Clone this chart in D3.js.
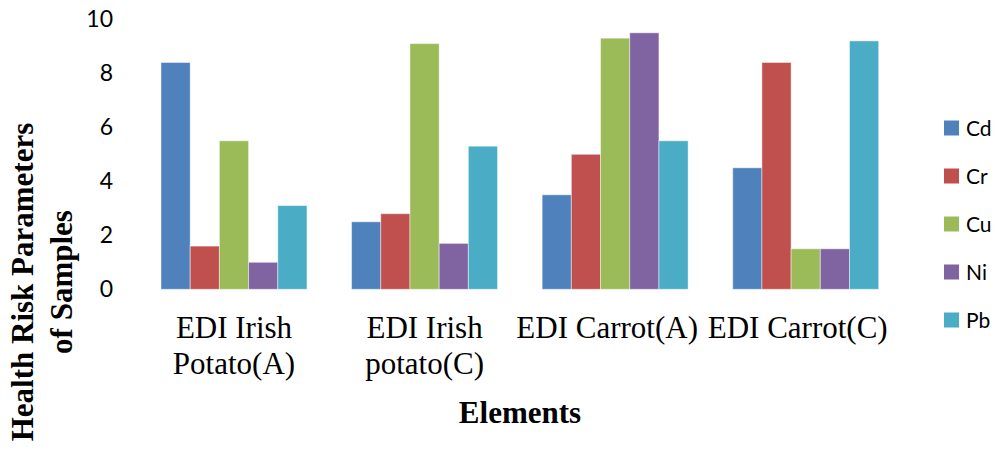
<!DOCTYPE html>
<html>
<head>
<meta charset="utf-8">
<script src="https://cdn.jsdelivr.net/npm/d3@7"></script>
<style>
  html, body { margin: 0; padding: 0; background: #fff; }
  svg { display: block; }
</style>
</head>
<body>
<svg id="chart" width="999" height="452"></svg>
<script>
// Sample groups (x categories) and the elements measured in each
const categories = ["EDI Irish\nPotato(A)", "EDI Irish\npotato(C)", "EDI Carrot(A)", "EDI Carrot(C)"];
const seriesNames = ["Cd", "Cr", "Cu", "Ni", "Pb"];
const Cd = [8.4, 2.5, 3.5, 4.5];
const Cr = [1.6, 2.8, 5.0, 8.4];
const Cu = [5.5, 9.1, 9.3, 1.5];
const Ni = [1.0, 1.7, 9.5, 1.5];
const Pb = [3.1, 5.3, 5.5, 9.2];
const yTicks = [0, 2, 4, 6, 8, 10];
const colors = ["#4F81BD", "#C0504D", "#9BBB59", "#8064A2", "#4BACC6"];

const seriesValues = [Cd, Cr, Cu, Ni, Pb];
const rows = categories.map((c, i) => ({
  category: c,
  values: seriesNames.map((s, j) => ({ key: s, value: seriesValues[j][i] }))
}));

const svg = d3.select("#chart");
const plot = { left: 138.7, right: 901, top: 19.3, bottom: 289.3 };

const x0 = d3.scaleBand()
  .domain(categories)
  .range([plot.left, plot.right])
  .paddingInner(0.234)
  .paddingOuter(0.117);

const x1 = d3.scaleBand()
  .domain(seriesNames)
  .range([0, x0.bandwidth()]);

const y = d3.scaleLinear()
  .domain([0, 10])
  .range([plot.bottom, plot.top]);

const color = d3.scaleOrdinal().domain(seriesNames).range(colors);

// Y axis: labels only, no line or tick marks
const yAxis = svg.append("g")
  .attr("transform", "translate(113,0)")
  .call(d3.axisLeft(y).tickValues(yTicks).tickFormat(d3.format("d")).tickSize(0).tickPadding(0));
yAxis.select(".domain").remove();
yAxis.selectAll("text")
  .attr("font-family", "Lato, 'Open Sans', sans-serif")
  .attr("font-size", 23)
  .attr("fill", "#000");

// Grouped bars
const groups = svg.append("g").selectAll("g")
  .data(rows)
  .join("g")
  .attr("transform", d => `translate(${x0(d.category)},0)`);

groups.selectAll("rect")
  .data(d => d.values)
  .join("rect")
  .attr("x", d => x1(d.key))
  .attr("y", d => y(d.value))
  .attr("width", x1.bandwidth())
  .attr("height", d => y(0) - y(d.value))
  .attr("fill", d => color(d.key))
  .attr("stroke", "rgba(255,255,255,0.45)")
  .attr("stroke-width", 1);

// X axis: category names, wrapped onto two lines where needed
const xAxis = svg.append("g")
  .attr("transform", `translate(0,${plot.bottom})`)
  .call(d3.axisBottom(x0).tickSize(0).tickFormat(""));
xAxis.select(".domain").remove();
xAxis.selectAll(".tick text").each(function(d) {
  const lines = d.split("\n");
  const t = d3.select(this)
    .attr("y", 0)
    .attr("dy", null)
    .attr("font-family", "'Liberation Serif', 'Times New Roman', serif")
    .attr("font-size", 31)
    .attr("fill", "#000")
    .attr("text-anchor", "middle");
  lines.forEach((line, i) => {
    t.append("tspan")
      .attr("x", lines.length === 1 ? -8 : 0)
      .attr("y", 49 + i * 36)
      .text(line);
  });
});

// Axis titles
svg.append("text")
  .attr("x", 520)
  .attr("y", 423)
  .attr("text-anchor", "middle")
  .attr("font-family", "'Liberation Serif', 'Times New Roman', serif")
  .attr("font-weight", "bold")
  .attr("font-size", 31)
  .attr("fill", "#000")
  .text("Elements");

const yTitle = svg.append("text")
  .attr("transform", "translate(0,282) rotate(-90)")
  .attr("text-anchor", "middle")
  .attr("font-family", "'Liberation Serif', 'Times New Roman', serif")
  .attr("font-weight", "bold")
  .attr("font-size", 31)
  .attr("fill", "#000");
yTitle.append("tspan").attr("x", 0).attr("y", 33).text("Health Risk Parameters");
yTitle.append("tspan").attr("x", 0).attr("y", 72).text("of Samples");

// Legend
const legend = svg.append("g").selectAll("g")
  .data(seriesNames)
  .join("g")
  .attr("transform", (d, i) => `translate(944,${128 + i * 48})`);
legend.append("rect")
  .attr("x", 0)
  .attr("y", -7.5)
  .attr("width", 15)
  .attr("height", 15)
  .attr("fill", d => color(d));
legend.append("text")
  .attr("x", 22)
  .attr("y", 0)
  .attr("dy", "0.36em")
  .attr("font-family", "Lato, 'Open Sans', sans-serif")
  .attr("font-size", 21)
  .attr("fill", "#000")
  .text(d => d);
</script>
</body>
</html>
